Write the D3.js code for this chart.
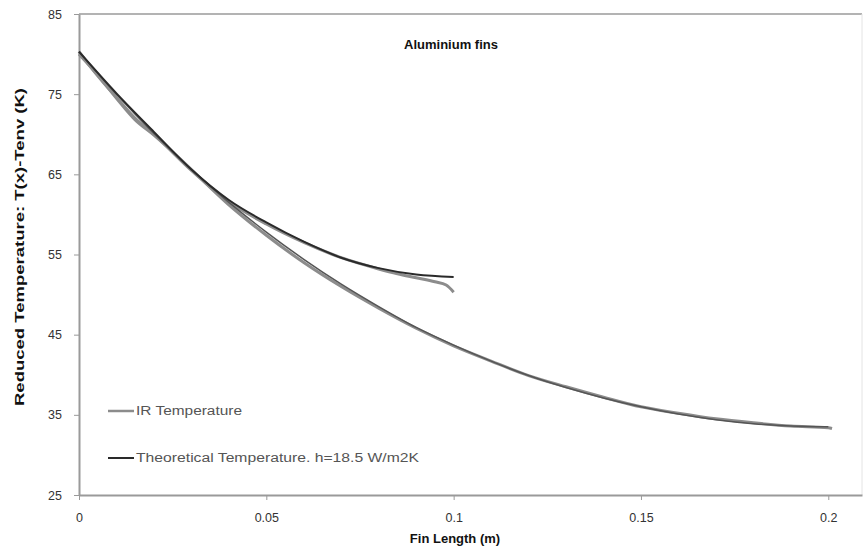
<!DOCTYPE html>
<html><head><meta charset="utf-8">
<script src="https://cdn.jsdelivr.net/npm/d3@7"></script>
<style>
body{margin:0;background:#fff;}
svg{display:block;font-family:Arial,"Liberation Sans",sans-serif;}
</style></head>
<body><svg id="chart" width="865" height="551"></svg>
<script>
// ---- data ----
const xTicks = [0, 0.05, 0.1, 0.15, 0.2];
const xTickLabels = ["0", "0.05", "0.1", "0.15", "0.2"];
const yTicks = [25, 35, 45, 55, 65, 75, 85];

// long fin (0.2 m)
const longIRx = [0,0.005,0.01,0.015,0.02,0.03,0.04,0.05,0.06,0.07,0.08,0.09,0.1,0.11,0.12,0.13,0.14,0.15,0.16,0.17,0.18,0.19,0.2,0.201];
const longIRy = [80.0,77.4,74.5,71.8,69.9,65.6,61.2,57.4,54.0,51.0,48.3,45.8,43.6,41.7,39.9,38.5,37.2,36.0,35.2,34.5,34.0,33.6,33.4,33.3];
const longThX = [0,0.01,0.02,0.03,0.04,0.05,0.06,0.07,0.08,0.09,0.1,0.11,0.12,0.13,0.14,0.15,0.16,0.17,0.18,0.19,0.2];
const longThY = [80.3,75.0,70.1,65.6,61.5,57.8,54.4,51.3,48.5,45.9,43.7,41.7,39.9,38.4,37.1,36.0,35.1,34.4,33.9,33.6,33.5];

// short fin (0.1 m)
const shortIRx = [0,0.005,0.01,0.015,0.02,0.03,0.04,0.05,0.06,0.07,0.08,0.085,0.09,0.095,0.098,0.1];
const shortIRy = [80.3,77.3,74.6,72.0,70.0,65.5,61.6,58.8,56.5,54.6,53.2,52.6,52.1,51.6,51.2,50.3];
const shortThX = [0,0.01,0.02,0.03,0.04,0.05,0.06,0.07,0.08,0.09,0.1];
const shortThY = [80.3,75.1,70.3,65.6,61.8,59.0,56.6,54.6,53.3,52.5,52.2];

const seriesNames = ["IR Temperature", "Theoretical Temperature. h=18.5 W/m2K"];
const titleText = "Aluminium fins";
const xTitle = "Fin Length (m)";
const yTitle = "Reduced Temperature: T(x)-Tenv (K)";

// ---- drawing ----
const svg = d3.select("#chart");
const L = 79, R = 862, T = 14, B = 495;
const x = d3.scaleLinear().domain([0, 0.209]).range([L, R]);
const y = d3.scaleLinear().domain([25, 85]).range([B, T]);

const gridColor = "#9a9a9a";
// frame top/right
svg.append("line").attr("x1", L).attr("x2", R).attr("y1", T).attr("y2", T)
  .attr("stroke", gridColor).attr("stroke-width", 1.5);
svg.append("line").attr("x1", R).attr("x2", R).attr("y1", T).attr("y2", B)
  .attr("stroke", "#e4e4e4").attr("stroke-width", 1);

const xAxis = svg.append("g").attr("transform", `translate(0,${B})`)
  .call(d3.axisBottom(x).tickValues(xTicks).tickFormat((d,i)=>xTickLabels[i]).tickSize(5).tickSizeOuter(0));
const yAxis = svg.append("g").attr("transform", `translate(${L},0)`)
  .call(d3.axisLeft(y).tickValues(yTicks).tickFormat(d3.format("d")).tickSize(5).tickSizeOuter(0));
[xAxis, yAxis].forEach(g => {
  g.select(".domain").attr("stroke", gridColor).attr("stroke-width", 2);
  g.selectAll(".tick line").attr("stroke", gridColor).attr("stroke-width", 1);
  g.selectAll(".tick text").attr("fill", "#333").attr("font-size", 12.5)
    .attr("font-family", "Arial, 'Liberation Sans', sans-serif");
});
xAxis.selectAll(".tick text").attr("dy", "1.55em");
yAxis.selectAll(".tick text").attr("x", -17);

const line = d3.line().x(d => x(d[0])).y(d => y(d[1])).curve(d3.curveMonotoneX);
const zip = (a, b) => a.map((v, i) => [v, b[i]]);
const irColor = "#8c8c8c", thColor = "#2a2a2a";

svg.append("path").datum(zip(longIRx, longIRy)).attr("d", line)
  .attr("fill", "none").attr("stroke", irColor).attr("stroke-width", 3);
svg.append("path").datum(zip(shortIRx, shortIRy)).attr("d", line)
  .attr("fill", "none").attr("stroke", irColor).attr("stroke-width", 3);
svg.append("path").datum(zip(longThX, longThY)).attr("d", line)
  .attr("fill", "none").attr("stroke", "#555").attr("stroke-width", 1.5);
svg.append("path").datum(zip(shortThX, shortThY)).attr("d", line)
  .attr("fill", "none").attr("stroke", thColor).attr("stroke-width", 2);

// title
svg.append("text").attr("x", 451).attr("y", 49).attr("text-anchor", "middle")
  .attr("font-size", 13).attr("font-weight", "bold").attr("fill", "#111").text(titleText);

// legend
const legendY = [411, 458];
const legendColors = [irColor, thColor];
const legendW = [2.5, 2];
const legendLen = [106, 283];
seriesNames.forEach((n, i) => {
  svg.append("line").attr("x1", 108).attr("x2", 134).attr("y1", legendY[i]).attr("y2", legendY[i])
    .attr("stroke", legendColors[i]).attr("stroke-width", legendW[i]);
  svg.append("text").attr("x", 136).attr("y", legendY[i] + 4).attr("font-size", 12)
    .attr("fill", "#555").attr("textLength", legendLen[i]).attr("lengthAdjust", "spacingAndGlyphs").text(n);
});

// axis titles
svg.append("text").attr("x", 455).attr("y", 543).attr("text-anchor", "middle")
  .attr("font-size", 13).attr("font-weight", "bold").attr("fill", "#111").text(xTitle);
svg.append("text").attr("transform", "translate(24,247) rotate(-90)").attr("text-anchor", "middle")
  .attr("font-size", 13).attr("font-weight", "bold").attr("fill", "#111")
  .attr("textLength", 318).attr("lengthAdjust", "spacingAndGlyphs").text(yTitle);
</script>
</body></html>
